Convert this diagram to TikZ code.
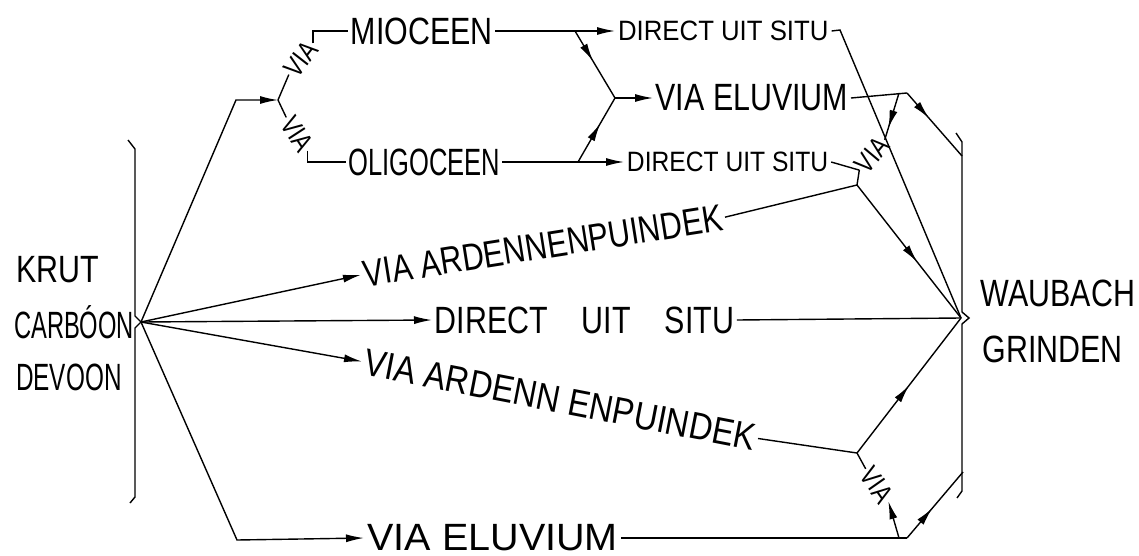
\documentclass[tikz,border=0pt]{standalone}
\usepackage{fontspec}
\newfontfamily\stencil[FakeStretch=0.8]{Liberation Sans}
\usetikzlibrary{arrows.meta}
\usetikzlibrary{decorations.markings}

\begin{document}
\begin{tikzpicture}[x=0.5pt,y=-0.5pt,
    >={Latex[length=9pt,width=4pt]},
    line width=0.7pt,
    big/.style={
% The font:
font=\stencil\fontsize{19}{19}\selectfont,
% The spacing:
inner sep=1pt,
},
    small/.style={
% The font:
font=\stencil\fontsize{14}{14}\selectfont,
% The spacing:
inner sep=1pt,
},
    via/.style={
% The font:
font=\stencil\fontsize{14}{14}\selectfont,
% The spacing:
inner sep=0.5pt,
% The slant:
rotate=#1,
},
    mid arrow/.style={
postaction={decorate},
decoration={markings, mark=at position #1 with {\arrow{>}}},
},
]
  \useasboundingbox (0,0) rectangle (1139,556);

  % left bracket
  \draw (128,140) -- (135,149) -- (135,316) -- (141,322) -- (135,328) -- (135,497) -- (130,503);
  \coordinate (src) at (141,322);
  \node[big,anchor=west]             (krut) at (14,270)  {KRUT};
  \node[big,anchor=west,xscale=0.78] (carb) at (12,322)  {CARBÓON};
  \node[big,anchor=west,xscale=0.8]  (devo) at (14,377)  {DEVOON};

  % right bracket
  \draw (956,133) -- (962,142) -- (962,312) -- (969,318) -- (962,324) -- (962,491) -- (957,498);
  \coordinate (sink) at (961,318);
  \node[big,anchor=west]             (waub) at (978,293) {WAUBACH};
  \node[big,anchor=west]             (grin) at (980,349) {GRINDEN};

  % top: mioceen / oligoceen
  \coordinate (up)   at (236,100);
  \coordinate (fork) at (278,100);
  \draw[->] (src) -- (up) -- (fork);
  \node[via=52]                      (viaA) at (301,59)  {VIA};
  \node[via=-57]                     (viaB) at (297,134) {VIA};
  \node[big,anchor=west]             (mio)  at (348,31)  {MIOCEEN};
  \node[big,anchor=west,xscale=0.84] (oli)  at (346,162) {OLIGOCEEN};
  \draw (fork) -- (viaA.west);
  \draw (viaA.east) |- (mio.west);
  \draw (fork) -- (viaB.west);
  \draw (viaB.east) |- (oli.west);

  \node[small,anchor=west,xscale=1.15] (dtop) at (615,31)  {DIRECT UIT SITU};
  \node[small,anchor=west,xscale=1.1]  (dbot) at (624,162) {DIRECT UIT SITU};
  \node[big,anchor=west]               (etop) at (653,98)  {VIA ELUVIUM};
  \coordinate (jm) at (575,31);
  \coordinate (jo) at (578,162);
  \coordinate (je) at (615,98);
  \draw[->] (mio.east) -- (dtop.west);
  \draw[->] (oli.east) -- (dbot.west);
  \draw[mid arrow=0.45] (jm) -- (je);
  \draw[mid arrow=0.6]  (jo) -- (je);
  \draw[->] (je) -- (etop.west);

  \coordinate (jt)   at (840,30);
  \coordinate (jet)  at (907,93);
  \coordinate (jet2) at (899,93);
  \coordinate (rtop) at (962,156);
  \draw (dtop.east) -- (jt) -- (sink);
  \draw (etop.east) -- (jet);
  \draw[mid arrow=0.4] (jet) -- (rtop);
  \node[via=50]                      (viaC) at (872,155) {VIA};
  \draw[mid arrow=0.75] (jet2) -- (viaC.east);
  \draw (dbot.east) -- (viaC.west);

  % via ardennenpuindek (upper)
  \node[big,rotate=9]                (ard1) at (543,246) {VIA ARDENNENPUINDEK};
  \coordinate (ja1) at (857,185);
  \draw[->] (src) -- (ard1.west);
  \draw (ard1.east) -- (ja1);
  \draw (ja1) -- (viaC.west);
  \draw[mid arrow=0.58] (ja1) -- (sink);

  % direct uit situ
  \node[big,anchor=west]             (dir)  at (432,320) {DIRECT\hspace{17pt}UIT\hspace{17pt}SITU};
  \draw[->] (src) -- (dir.west);
  \draw (dir.east) -- (sink);

  % via ardennenpuindek (lower)
  \node[big,rotate=-11,xscale=1.07]  (ard2) at (560,400) {VIA ARDENN ENPUINDEK};
  \coordinate (ja2) at (857,453);
  \draw[->] (src) -- (ard2.west);
  \draw (ard2.east) -- (ja2);
  \draw[mid arrow=0.5] (ja2) -- (sink);
  \node[via=-55]                     (viaD) at (877,485) {VIA};
  \draw (ja2) -- (viaD.west);

  % via eluvium (bottom)
  \coordinate (down) at (237,540);
  \coordinate (jeb)  at (907,538);
  \coordinate (jeb2) at (899,538);
  \coordinate (rbot) at (963,472);
  \node[big,anchor=west,xscale=1.3]  (ebot) at (364,538) {VIA ELUVIUM};
  \draw[->] (src) -- (down) -- (ebot.west);
  \draw (ebot.east) -- (jeb);
  \draw[mid arrow=0.45] (jeb) -- (rbot);
  \draw[->] (jeb2) -- (viaD.east);
\end{tikzpicture}
\end{document}
